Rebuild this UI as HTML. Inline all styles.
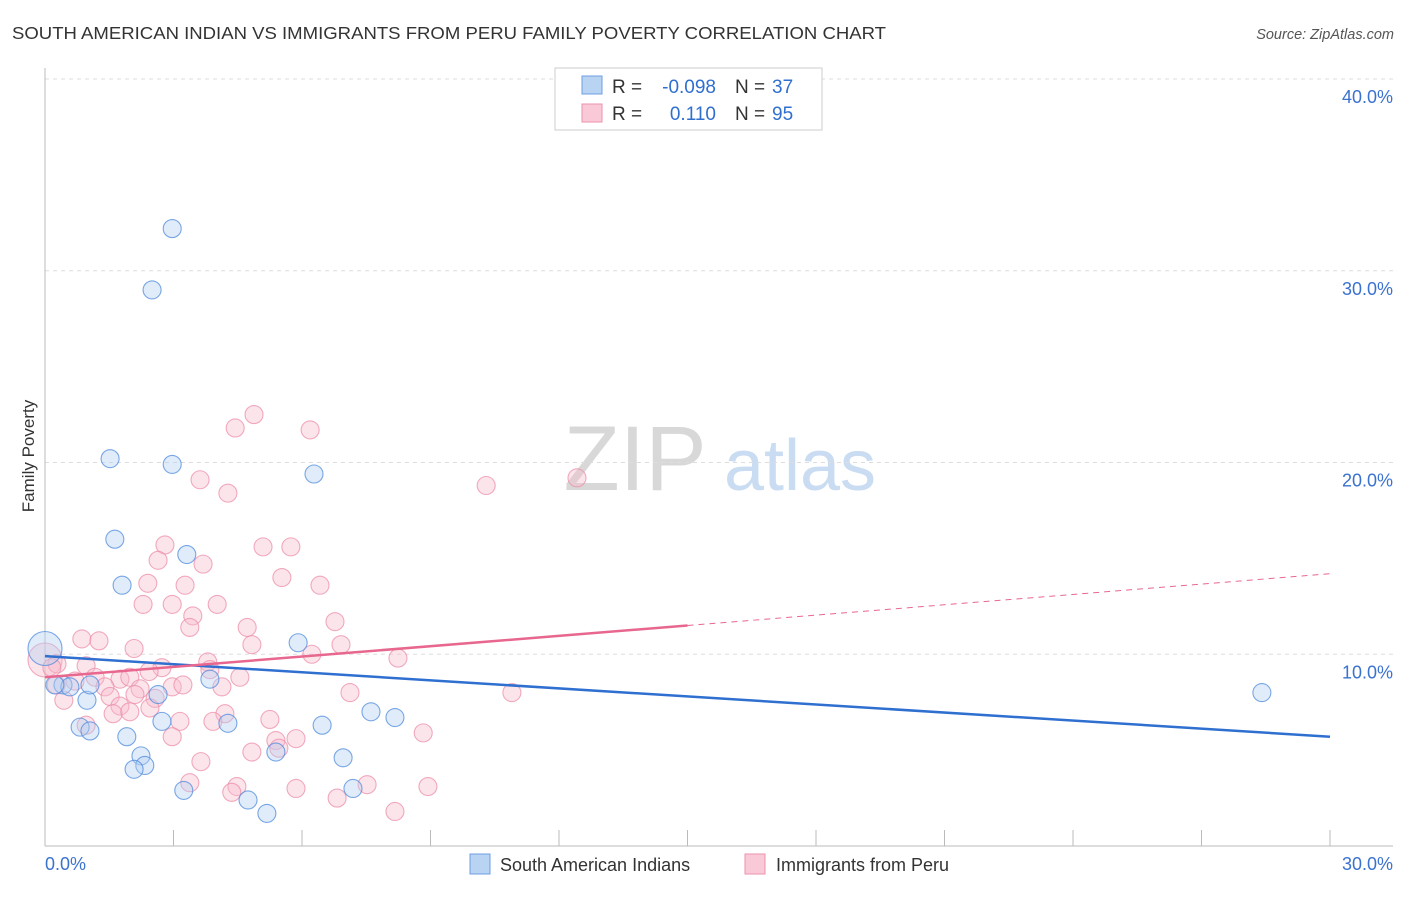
<!DOCTYPE html>
<html><head><meta charset="utf-8"><style>
body{margin:0;background:#fff;font-family:"Liberation Sans",sans-serif;}
svg text{font-family:"Liberation Sans",sans-serif;}
</style></head><body>
<svg id="chart" width="1406" height="892">
<text x="12" y="39" font-size="17.5" fill="#333" textLength="874" lengthAdjust="spacingAndGlyphs">SOUTH AMERICAN INDIAN VS IMMIGRANTS FROM PERU FAMILY POVERTY CORRELATION CHART</text>
<text x="1394" y="39" font-size="14.5" fill="#555" text-anchor="end" font-style="italic">Source: ZipAtlas.com</text>
<g><text x="635" y="490" font-size="92" fill="#d8d8d8" font-family="Liberation Serif,serif" text-anchor="middle">ZIP</text><text x="800" y="490" font-size="72" fill="#c9dcf2" text-anchor="middle">atlas</text></g>
<g id="grid"></g><g id="axes"></g><g id="pts"></g><g id="lines"></g>
<text x="34" y="456" font-size="17" fill="#333" transform="rotate(-90 34 456)" text-anchor="middle">Family Poverty</text>
<g>
<rect x="555" y="68" width="267" height="62" fill="#fff" stroke="#ccc"/>
<rect x="582" y="76" width="20" height="18" fill="#b9d3f3" stroke="#6d9ee0"/>
<rect x="582" y="104" width="20" height="18" fill="#f9c9d7" stroke="#ec92ae"/>
<text x="612" y="93" font-size="19" fill="#333">R =</text>
<text x="716" y="93" font-size="19" fill="#2f6fd0" text-anchor="end">-0.098</text>
<text x="735" y="93" font-size="19" fill="#333">N =</text>
<text x="772" y="93" font-size="19" fill="#2f6fd0">37</text>
<text x="612" y="120" font-size="19" fill="#333">R =</text>
<text x="716" y="120" font-size="19" fill="#2f6fd0" text-anchor="end">0.110</text>
<text x="735" y="120" font-size="19" fill="#333">N =</text>
<text x="772" y="120" font-size="19" fill="#2f6fd0">95</text>
</g>
<g>
<rect x="470" y="854" width="20" height="20" fill="#b9d3f3" stroke="#6d9ee0"/>
<text x="500" y="871" font-size="18" fill="#333">South American Indians</text>
<rect x="745" y="854" width="20" height="20" fill="#f9c9d7" stroke="#ec92ae"/>
<text x="776" y="871" font-size="18" fill="#333">Immigrants from Peru</text>
</g>
</svg>
<script>
const blueX=[2.97,2.50,1.52,2.97,6.28,1.63,3.31,1.80,5.91,0,3.85,2.64,0.98,0.42,0.58,0.23,1.05,0.82,1.05,2.73,4.27,6.47,8.17,7.61,1.91,2.24,2.33,2.08,6.96,5.39,3.24,4.74,5.18,7.19,28.41];
const blueY=[32.2,29.0,20.2,19.9,19.4,16.0,15.2,13.6,10.6,10.3,8.7,7.9,7.6,8.4,8.3,8.4,8.4,6.2,6.0,6.5,6.4,6.3,6.7,7.0,5.7,4.7,4.2,4.0,4.6,4.9,2.9,2.4,1.7,3.0,8.0];
const pinkX=[4.88,4.44,6.19,3.62,4.27,10.30,12.42,2.80,5.09,5.74,2.64,3.69,2.40,5.53,3.27,6.42,2.29,2.97,4.02,3.45,3.38,4.72,6.77,0.86,1.26,4.83,6.91,2.08,6.23,8.24,0,0.28,0.96,2.73,3.80,2.43,3.85,4.55,1.17,1.75,1.98,1.40,0.70,2.22,2.97,3.22,4.13,7.12,10.90,0.44,1.52,2.10,2.57,1.75,2.45,1.59,1.98,4.20,0.96,3.15,3.92,5.25,2.97,5.86,8.83,5.39,4.83,5.46,3.64,3.38,4.48,4.36,5.86,7.52,8.94,6.82,8.17,0.16,0.26];
const pinkY=[22.5,21.8,21.7,19.1,18.4,18.8,19.2,15.7,15.6,15.6,14.9,14.7,13.7,14.0,13.6,13.6,12.6,12.6,12.6,12.0,11.4,11.4,11.7,10.8,10.7,10.5,10.5,10.3,10.0,9.8,9.7,9.5,9.4,9.3,9.6,9.1,9.2,8.8,8.8,8.7,8.8,8.3,8.6,8.2,8.3,8.4,8.3,8.0,8.0,7.6,7.8,7.9,7.7,7.3,7.2,6.9,7.0,6.9,6.3,6.5,6.5,6.6,5.7,5.6,5.9,5.5,4.9,5.1,4.4,3.3,3.1,2.8,3.0,3.2,3.1,2.5,1.8,9.3,8.4];
const blueTrend=[9.9,5.7];   // y at x=0 and x=30
const pinkTrend=[8.8,14.2];  // y at x=0 and x=30
const yTicks=[10,20,30,40];
const ns="http://www.w3.org/2000/svg";
const sx=v=>45+v/30*1285, sy=v=>846-v/40*767;
function mk(t,a,p){const e=document.createElementNS(ns,t);for(const k in a)e.setAttribute(k,a[k]);p.appendChild(e);return e;}
const grid=document.getElementById('grid'),axes=document.getElementById('axes'),pts=document.getElementById('pts'),lines=document.getElementById('lines');
yTicks.forEach(v=>{
 const l=mk('line',{x1:45,x2:1393,y1:sy(v),y2:sy(v),stroke:'#ddd','stroke-dasharray':'4,4'},grid);
 
 
 const t=mk('text',{x:1393,y:sy(v)+24,'font-size':18,fill:'#3a72d0','text-anchor':'end'},grid);t.textContent=v.toFixed(1)+'%';
 
 
});
mk('line',{x1:45,x2:45,y1:68,y2:846,stroke:'#bbb'},axes);
mk('line',{x1:45,x2:1393,y1:846,y2:846,stroke:'#bbb'},axes);
for(let i=0;i<=10;i++){mk('line',{x1:sx(i*3),x2:sx(i*3),y1:830,y2:846,stroke:'#bbb'},axes);}
let t0=mk('text',{x:45,y:870,'font-size':18,fill:'#3a72d0'},axes);t0.textContent='0.0%';


let t1=mk('text',{x:1393,y:870,'font-size':18,fill:'#3a72d0','text-anchor':'end'},axes);t1.textContent='30.0%';


function draw(X,Y,fill,stroke,name){X.forEach((x,i)=>{const c=mk('circle',{cx:sx(x),cy:sy(Y[i]),r:(x===0?17:9),fill:fill,'fill-opacity':0.4,stroke:stroke,'stroke-opacity':0.75,'stroke-width':1.1},pts);
 
 });}
draw(pinkX,pinkY,'#f7bccd','#ec8faa','peru-point');
draw(blueX,blueY,'#b5d0f2','#4f8bdc','sai-point');
let bl=mk('line',{x1:sx(0),y1:sy(blueTrend[0]),x2:sx(30),y2:sy(blueTrend[1]),stroke:'#2f6fd0','stroke-width':2.5},lines);


const pm=pinkTrend[0]+(pinkTrend[1]-pinkTrend[0])/2;
let pl=mk('line',{x1:sx(0),y1:sy(pinkTrend[0]),x2:sx(15),y2:sy(pm),stroke:'#e8678f','stroke-width':2.5},lines);


let pd=mk('line',{x1:sx(15),y1:sy(pm),x2:sx(30),y2:sy(pinkTrend[1]),stroke:'#e8678f','stroke-width':1,'stroke-dasharray':'6,5'},lines);


</script>
</body></html>
